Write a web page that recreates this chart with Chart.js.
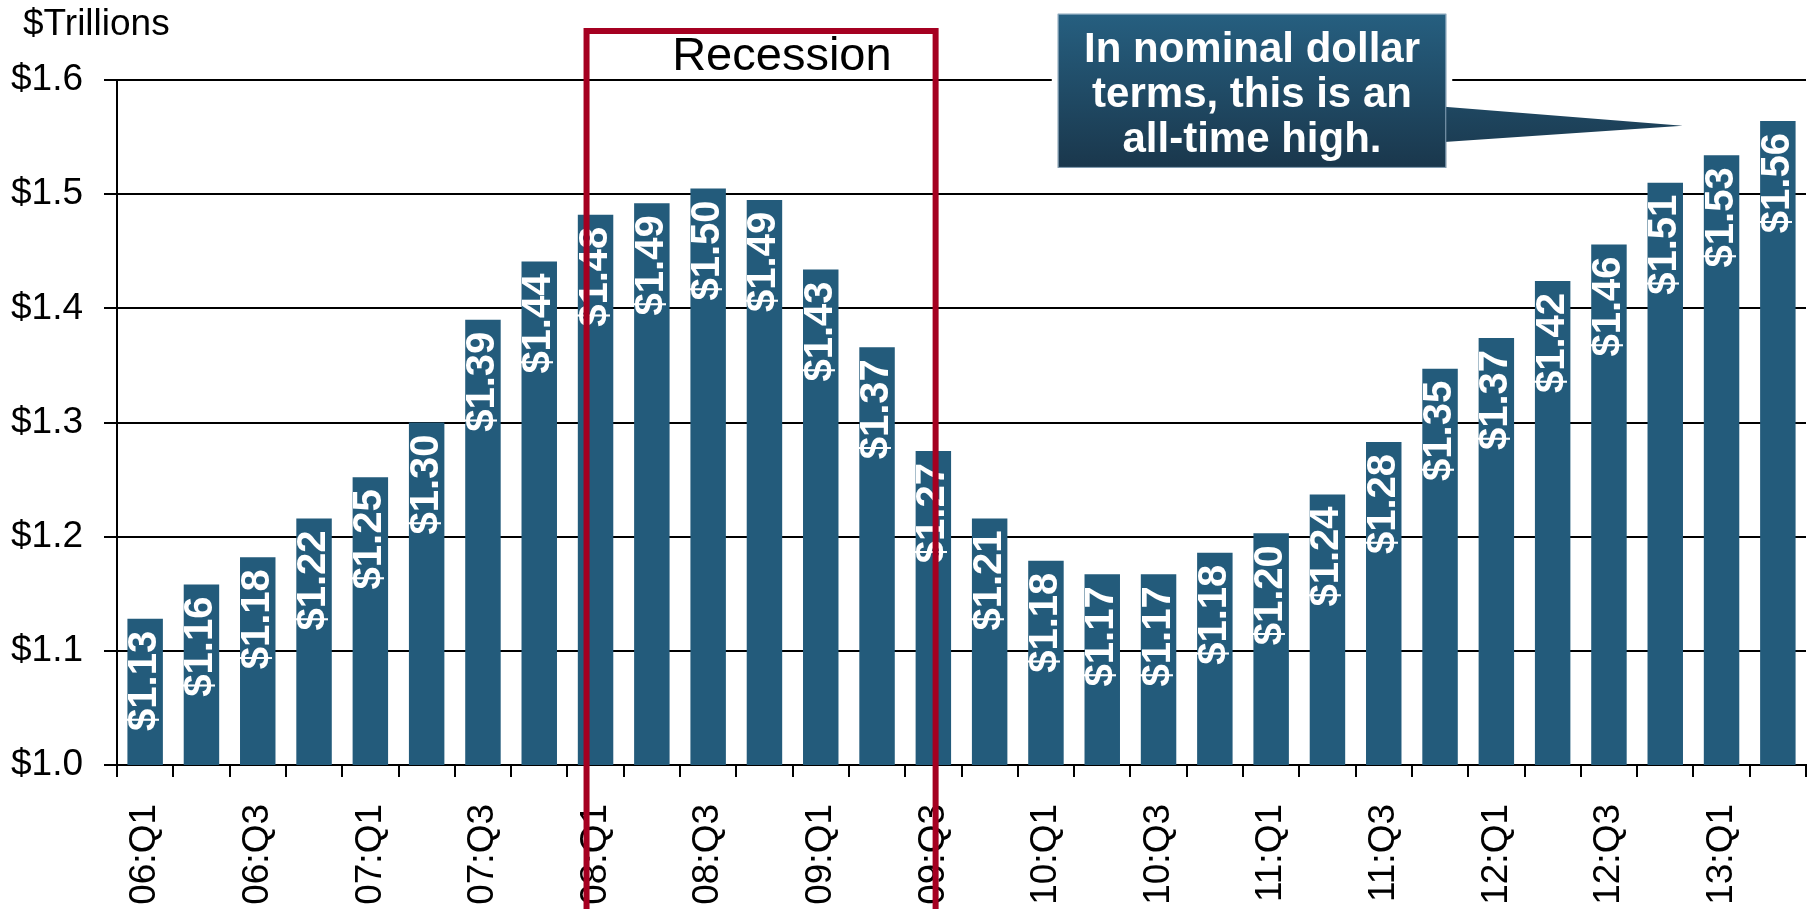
<!DOCTYPE html>
<html>
<head>
<meta charset="utf-8">
<title>Outlays, $Trillions</title>
<script src="https://cdn.jsdelivr.net/npm/chart.js@4.4.0/dist/chart.umd.min.js"></script>
<style>
  html, body { margin: 0; padding: 0; background: #fff; overflow: hidden; }
  canvas { display: block; }
</style>
</head>
<body>
<canvas id="chart" width="1812" height="909"></canvas>
<script>
// quarters on the x axis (only every other one gets a label)
const quarters = [
    '06:Q1', '06:Q2', '06:Q3', '06:Q4',
    '07:Q1', '07:Q2', '07:Q3', '07:Q4',
    '08:Q1', '08:Q2', '08:Q3', '08:Q4',
    '09:Q1', '09:Q2', '09:Q3', '09:Q4',
    '10:Q1', '10:Q2', '10:Q3', '10:Q4',
    '11:Q1', '11:Q2', '11:Q3', '11:Q4',
    '12:Q1', '12:Q2', '12:Q3', '12:Q4',
    '13:Q1', '13:Q2'
];

// bar heights, $ trillions
const amounts = [
    1.128, 1.158, 1.182, 1.216,
    1.252, 1.300, 1.390, 1.441,
    1.482, 1.492, 1.505, 1.495,
    1.434, 1.366, 1.275, 1.216,
    1.179, 1.167, 1.167, 1.186,
    1.203, 1.237, 1.283, 1.347,
    1.374, 1.424, 1.456, 1.510,
    1.534, 1.564
];

// the printed labels inside the bars
const amountLabels = [
    '$1.13', '$1.16', '$1.18', '$1.22',
    '$1.25', '$1.30', '$1.39', '$1.44',
    '$1.48', '$1.49', '$1.50', '$1.49',
    '$1.43', '$1.37', '$1.27', '$1.21',
    '$1.18', '$1.17', '$1.17', '$1.18',
    '$1.20', '$1.24', '$1.28', '$1.35',
    '$1.37', '$1.42', '$1.46', '$1.51',
    '$1.53', '$1.56'
];

// y axis range
const yMin = 1.0;
const yMax = 1.6;
const yStep = 0.1;

const calloutLines = ['In nominal dollar', 'terms, this is an', 'all-time high.'];

// annotation anchors, in axis units (category index / $ trillions)
const recession = { start: 7.84, end: 14.04, top: 1.643, labelX: 11.31, labelY: 1.609 };
const callout = { left: 16.21, right: 23.11, top: 1.658, bottom: 1.523,
                  baseTop: 1.5765, baseBottom: 1.5458, tipX: 27.31, tipY: 1.560 };

const FONT = "'Liberation Sans', Arial, sans-serif";
const BAR_COLOR = '#235b7b';
const RED = '#a50021';

// white numbers written upward inside each bar
const barLabels = {
    id: 'barLabels',
    afterDatasetsDraw(chart) {
        const ctx = chart.ctx;
        const meta = chart.getDatasetMeta(0);
        ctx.save();
        ctx.fillStyle = '#fff';
        ctx.font = 'bold 40px ' + FONT;
        ctx.textAlign = 'right';
        ctx.textBaseline = 'middle';
        meta.data.forEach((bar, i) => {
            ctx.save();
            ctx.translate(bar.x, bar.y + 12);
            ctx.rotate(-Math.PI / 2);
            ctx.fillText(amountLabels[i], 0, 0);
            ctx.restore();
        });
        ctx.restore();
    }
};

// units title, recession bracket, callout box
const overlay = {
    id: 'overlay',
    afterDraw(chart) {
        const ctx = chart.ctx;
        const x = chart.scales.x, y = chart.scales.y;
        ctx.save();

        ctx.fillStyle = '#000';
        ctx.font = '37px ' + FONT;
        ctx.textAlign = 'left';
        ctx.textBaseline = 'alphabetic';
        ctx.fillText('$Trillions', 23, 35);

        // recession bracket
        const rx0 = x.getPixelForValue(recession.start);
        const rx1 = x.getPixelForValue(recession.end);
        const ry = y.getPixelForValue(recession.top);
        ctx.strokeStyle = RED;
        ctx.lineWidth = 6;
        ctx.lineJoin = 'miter';
        ctx.beginPath();
        ctx.moveTo(rx0, chart.height + 5);
        ctx.lineTo(rx0, ry);
        ctx.lineTo(rx1, ry);
        ctx.lineTo(rx1, chart.height + 5);
        ctx.stroke();

        ctx.fillStyle = '#000';
        ctx.font = '47px ' + FONT;
        ctx.textAlign = 'center';
        ctx.fillText('Recession', x.getPixelForValue(recession.labelX), y.getPixelForValue(recession.labelY));

        // callout
        const bl = x.getPixelForValue(callout.left);
        const br = x.getPixelForValue(callout.right);
        const bt = y.getPixelForValue(callout.top);
        const bb = y.getPixelForValue(callout.bottom);
        ctx.fillStyle = '#fff';
        ctx.fillRect(bl - 6, bt - 6, br - bl + 12, bb - bt + 12);

        const grad = ctx.createLinearGradient(0, bt, 0, bb);
        grad.addColorStop(0, '#265f80');
        grad.addColorStop(1, '#1a374c');
        ctx.fillStyle = grad;
        ctx.beginPath();
        ctx.moveTo(br - 2, y.getPixelForValue(callout.baseTop));
        ctx.lineTo(x.getPixelForValue(callout.tipX), y.getPixelForValue(callout.tipY));
        ctx.lineTo(br - 2, y.getPixelForValue(callout.baseBottom));
        ctx.closePath();
        ctx.fill();
        ctx.fillRect(bl, bt, br - bl, bb - bt);
        ctx.strokeStyle = 'rgba(150,175,195,0.9)';
        ctx.lineWidth = 1;
        ctx.strokeRect(bl + 0.5, bt + 0.5, br - bl - 1, bb - bt - 1);

        ctx.fillStyle = '#fff';
        ctx.font = 'bold 42px ' + FONT;
        ctx.textAlign = 'center';
        const cx = (bl + br) / 2;
        calloutLines.forEach((line, i) => {
            ctx.fillText(line, cx, bt + 48 + i * 45);
        });

        ctx.restore();
    }
};

new Chart(document.getElementById('chart'), {
    type: 'bar',
    data: {
        labels: quarters,
        datasets: [{
            data: amounts,
            backgroundColor: BAR_COLOR,
            borderWidth: 0,
            barPercentage: 0.63,
            categoryPercentage: 1.0
        }]
    },
    options: {
        responsive: false,
        devicePixelRatio: 1,
        animation: false,
        layout: { padding: { top: 80, right: 6, left: 0, bottom: 0 } },
        plugins: {
            legend: { display: false },
            tooltip: { enabled: false }
        },
        scales: {
            x: {
                offset: true,
                grid: { offset: true, drawOnChartArea: false, drawTicks: true, tickLength: 12, color: '#000', lineWidth: 2 },
                border: { color: '#000', width: 2 },
                ticks: {
                    autoSkip: false,
                    maxRotation: 90,
                    minRotation: 90,
                    padding: 27,
                    color: '#000',
                    font: { family: FONT, size: 37 },
                    callback: function(v, i) { return i % 2 === 0 ? quarters[i] : ''; }
                },
                afterFit: function(s) { s.height = 144; s.paddingLeft = 0; s.paddingRight = 0; }
            },
            y: {
                min: yMin,
                max: yMax,
                grid: { color: '#000', lineWidth: 2, tickLength: 13, drawTicks: true },
                border: { display: true, color: '#000', width: 2 },
                ticks: {
                    stepSize: yStep,
                    padding: 21,
                    color: '#000',
                    font: { family: FONT, size: 37 },
                    callback: v => '$' + v.toFixed(1)
                },
                afterFit: function(s) { s.width = 117; s.paddingTop = 0; s.paddingBottom = 0; }
            }
        }
    },
    plugins: [barLabels, overlay]
});
</script>
</body>
</html>
